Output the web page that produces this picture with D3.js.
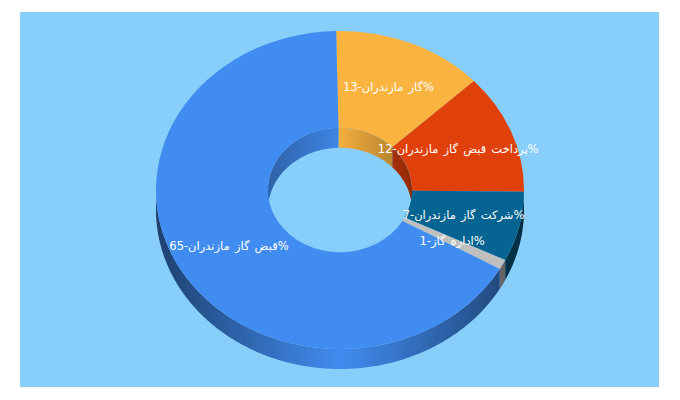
<!DOCTYPE html>
<html><head><meta charset="utf-8">
<script src="https://cdn.jsdelivr.net/npm/d3@7"></script>
<style>html,body{margin:0;background:#fff}svg{display:block}</style>
</head><body><svg id="c" width="680" height="400"></svg>
<script>
const sliceNames = ["گاز مازندران","پرداخت قبض گاز مازندران","شرکت گاز مازندران","اداره گاز","قبض گاز مازندران"];
const labelNumbers = [13,12,7,1,65];
const sliceShares = [13.3,12.2,7.1,1.0,66.4];
const sliceColors = ["#fcb441","#e0400a","#056492","#bfbfbf","#418cf0"];

const W=680,H=400,cx=340,cy=190,R=184,r=72,k=159/184,depth=20;
const svg=d3.select("#c");
svg.append("rect").attr("x",20).attr("y",12).attr("width",639).attr("height",375).attr("fill","#87cefa");
const rows=sliceNames.map((n,i)=>({n,num:labelNumbers[i],share:sliceShares[i],color:sliceColors[i],i}));
const start=-1.2*Math.PI/180;
const arcs=d3.pie().value(d=>d.share).sort(null).startAngle(start).endAngle(start+2*Math.PI)(rows);
const defs=svg.append("defs");
function grad(id,color,x0,x1,e0,m,e1){
  const g=defs.append("linearGradient").attr("id",id).attr("gradientUnits","userSpaceOnUse")
    .attr("x1",x0).attr("x2",x1).attr("y1",0).attr("y2",0);
  const c=d3.rgb(color),f=t=>d3.rgb(c.r*t,c.g*t,c.b*t).formatHex();
  g.append("stop").attr("offset",0).attr("stop-color",f(e0));
  g.append("stop").attr("offset",.5).attr("stop-color",f(m));
  g.append("stop").attr("offset",1).attr("stop-color",f(e1));
}
const pt=(rad,a,dy)=>[cx+rad*Math.sin(a),cy-rad*k*Math.cos(a)+dy];
const line=d3.line();
function wall(rad,a0,a1){
  const n=Math.max(2,Math.ceil((a1-a0)/0.01));
  const as=d3.range(n+1).map(i=>a0+(a1-a0)*i/n);
  return line(as.map(a=>pt(rad,a,0)).concat(as.slice().reverse().map(a=>pt(rad,a,depth))))+"Z";
}
const PI=Math.PI;
const gOuter=svg.append("g"),gInner=svg.append("g"),gTop=svg.append("g"),gText=svg.append("g");
arcs.forEach(d=>{
  const id=d.data.i;
  grad("o"+id,d.data.color,cx-R,cx+R,.46,1,.46);
  grad("n"+id,d.data.color,cx-r,cx+r,.7,.96,.66);
  const a0=Math.max(d.startAngle,PI/2),a1=Math.min(d.endAngle,3*PI/2);
  if(a1>a0) gOuter.append("path").attr("d",wall(R,a0,a1)).attr("fill",`url(#o${id})`);
  [[d.startAngle,Math.min(d.endAngle,PI/2)],[Math.max(d.startAngle,3*PI/2),d.endAngle]].forEach(([b0,b1])=>{
    if(b1>b0) gInner.append("path").attr("d",wall(r,b0,b1)).attr("fill",`url(#n${id})`);
  });
});
const arc=d3.arc().innerRadius(r).outerRadius(R);
gTop.attr("transform",`translate(${cx},${cy}) scale(1,${k})`);
gTop.selectAll("path").data(arcs).join("path").attr("d",arc).attr("fill",d=>d.data.color);
gText.selectAll("text").data(arcs).join("text")
  .attr("x",d=>cx+arc.centroid(d)[0]-1)
  .attr("y",d=>cy+arc.centroid(d)[1]*k)
  .attr("dy","0.3em")
  .attr("text-anchor","middle")
  .attr("direction","rtl")
  .attr("font-family","'DejaVu Sans',sans-serif")
  .attr("font-size",11.5)
  .attr("word-spacing",1.5)
  .attr("fill","#fff")
  .text(d=>`%${d.data.n}-${d.data.num}`);
</script></body></html>
